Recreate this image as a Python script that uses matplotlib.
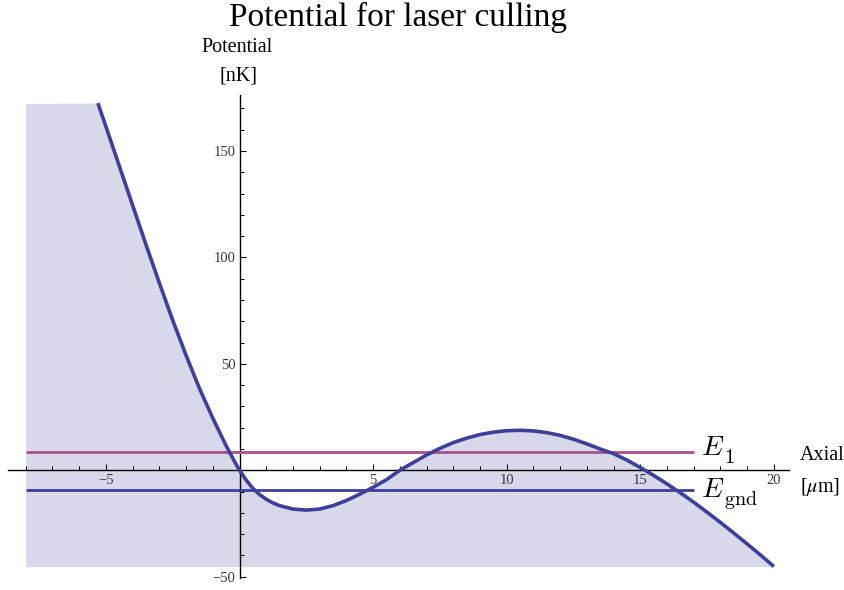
import matplotlib
matplotlib.use("Agg")
import matplotlib.pyplot as plt
from matplotlib.ticker import FixedLocator, NullFormatter
from matplotlib.transforms import offset_copy

# Axial position [um] and trap potential [nK]
axial = [-5.3, -5.0, -4.5, -4.0, -3.5, -3.0, -2.5, -2.0, -1.5, -1.0, -0.5, -0.25, 0.0,
         0.25, 0.5, 0.75, 1.0, 1.25, 1.5, 2.0, 2.5, 3.0, 3.5, 4.0, 4.5, 5.0, 5.5, 6.0,
         6.5, 7.0, 7.5, 8.0, 8.5, 9.0, 9.5, 10.0, 10.5, 11.0, 11.5, 12.0,
         12.5, 13.0, 13.5, 14.0, 14.5, 15.0, 15.5, 16.0, 16.5, 17.0, 17.5,
         18.0, 18.5, 19.0, 19.5, 20.0]
potential = [172.5, 161.5, 143.0, 124.5, 106.0, 88.0, 70.5, 54.0, 38.5, 24.5, 11.5, 5.6, 0.0,
             -4.6, -8.5, -11.4, -13.6, -15.3, -16.6, -18.2, -18.7, -18.2, -16.6, -14.2, -11.2, -8.0, -4.4, 0.0,
             3.6, 7.2, 10.3, 13.0, 15.1, 16.8, 17.9, 18.6, 18.8, 18.5, 17.7, 16.4,
             14.6, 12.4, 10.0, 7.8, 4.8, 1.3, -2.4, -6.4, -10.6, -15.0, -19.7,
             -24.5, -29.5, -34.6, -39.8, -45.2]

# Energy levels
level_symbol = "E"
level_subscripts = ["1", "gnd"]
level_values = [8.4, -9.2]
level_colors = ["#a8528c", "#3d3f9a"]
level_x = [-8.0, 17.0]

# Plot range used for the shaded region
fill_left = -8.0
plot_floor = -45.2
plot_ceiling = 172.3

x_major = [-5, 5, 10, 15, 20]
x_major_labels = ["\u22125", "5", "10", "15", "20"]
x_minor = [v for v in range(-8, 21) if v % 5 != 0]
y_major = [-50, 50, 100, 150]
y_major_labels = ["\u221250", "50", "100", "150"]
y_minor = [v for v in range(-40, 171, 10) if v % 50 != 0]

W, H = 844, 590
X0, XS = 239.5, 26.72   # pixel of x=0, pixels per um
Y0, YS = 470.3, 2.1287  # pixel of y=0, pixels per nK

curve_color = "#3d3f9a"
fill_color = "#d8d8eb"
serif = ["Liberation Serif", "DejaVu Serif"]

fig = plt.figure(figsize=(W / 100, H / 100), dpi=100)
ax = fig.add_axes([0, 0, 1, 1])
ax.set_xlim(-X0 / XS, (W - X0) / XS)
ax.set_ylim(-(H - Y0) / YS, Y0 / YS)
ax.patch.set_alpha(0)

# shaded area beneath the potential
ax.fill_between([fill_left] + axial, [plot_ceiling] + potential, plot_floor,
                color=fill_color, lw=0, zorder=1)

for val, col in zip(level_values, level_colors):
    ax.plot(level_x, [val, val], color=col, lw=2.0, zorder=3,
            solid_capstyle="butt")

ax.plot(axial, potential, color=curve_color, lw=2.6, zorder=4,
        solid_capstyle="butt", solid_joinstyle="round")

# level labels: italic E with a roman subscript, placed at the line ends
label_offsets = [((7, -2.3), (30, -11.0)), ((7, -7.0), (30, -15.5))]
for val, sub, (main_off, sub_off) in zip(level_values, level_subscripts, label_offsets):
    tr = offset_copy(ax.transData, fig=fig, x=main_off[0], y=main_off[1], units="dots")
    ax.text(level_x[1], val, "$" + level_symbol + "$", transform=tr, fontsize=20,
            math_fontfamily="cm", va="baseline", ha="left", color="black")
    tr = offset_copy(ax.transData, fig=fig, x=sub_off[0], y=sub_off[1], units="dots")
    ax.text(level_x[1], val, r"$\mathrm{" + sub + "}$", transform=tr, fontsize=14.5,
            math_fontfamily="cm", va="baseline", ha="left", color="black")

# axes through the origin
for s in ("top", "right"):
    ax.spines[s].set_visible(False)
ax.spines["left"].set_position(("data", 0))
ax.spines["bottom"].set_position(("data", 0))
ax.spines["bottom"].set_bounds(-8.65, 20.55)
ax.spines["left"].set_bounds(-50.8, 176.5)
for s in ("left", "bottom"):
    ax.spines[s].set_linewidth(1.0)
    ax.spines[s].set_zorder(2)

ax.xaxis.set_major_locator(FixedLocator(x_major))
ax.xaxis.set_minor_locator(FixedLocator(x_minor))
ax.yaxis.set_major_locator(FixedLocator(y_major))
ax.yaxis.set_minor_locator(FixedLocator(y_minor))
ax.xaxis.set_minor_formatter(NullFormatter())
ax.yaxis.set_minor_formatter(NullFormatter())
ax.set_xticklabels(x_major_labels)
ax.set_yticklabels(y_major_labels)

ax.tick_params(which="major", direction="in", length=4.5, width=0.8,
               labelsize=10.5, labelcolor="#383838", pad=3)
ax.tick_params(which="minor", direction="in", length=2.8, width=0.7)
for lab in ax.get_xticklabels() + ax.get_yticklabels():
    lab.set_family(serif)

def px(x, y):
    return x / W, 1 - y / H

fig.text(*px(398, 26), "Potential for laser culling", fontsize=24,
         family=serif, ha="center", va="baseline")
fig.text(*px(237, 52.5), "Potential", fontsize=14.5, family=serif,
         ha="center", va="baseline")
fig.text(*px(238, 80), "[nK]", fontsize=14.5, family=serif,
         ha="center", va="baseline")
fig.text(*px(800, 460), "Axial", fontsize=14.5, family=serif,
         ha="left", va="baseline")
fig.text(*px(800, 492), r"[$\mu$m]", fontsize=14.5, family=serif,
         math_fontfamily="stix", ha="left", va="baseline")

fig.savefig("out.png", dpi=100, facecolor="white")
